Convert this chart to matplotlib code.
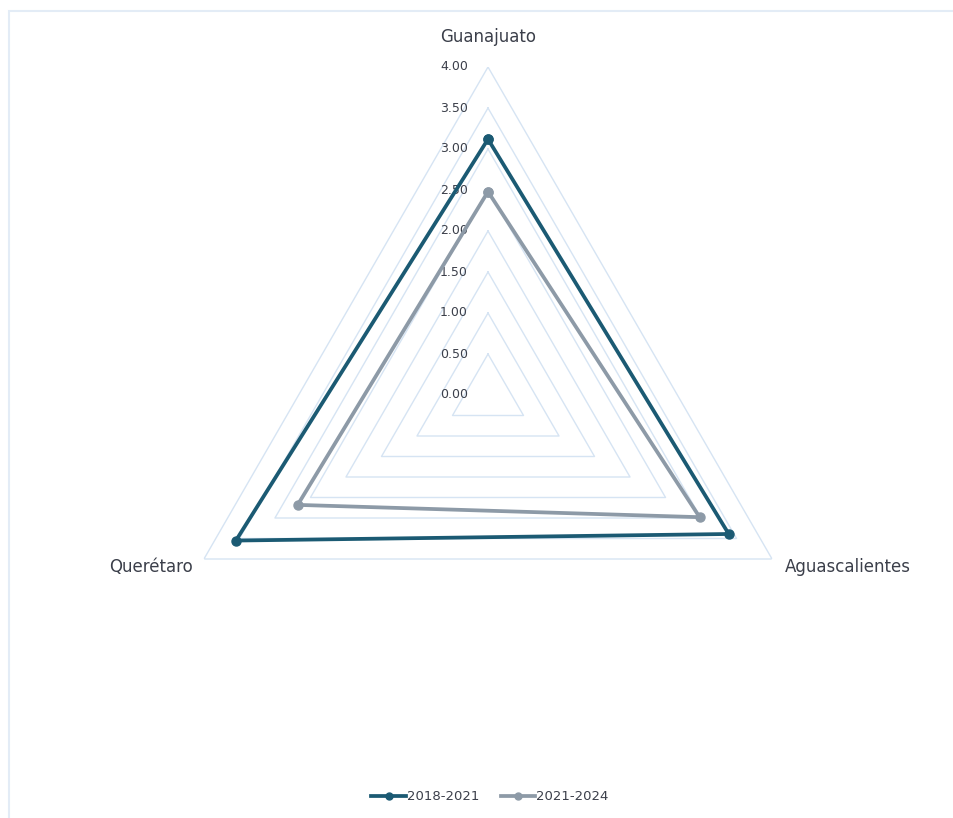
import numpy as np
import matplotlib

matplotlib.use("Agg")
import matplotlib.pyplot as plt
from matplotlib.lines import Line2D
from matplotlib.patches import Rectangle
from matplotlib.transforms import offset_copy

# data
states = ["Guanajuato", "Aguascalientes", "Querétaro"]
periods = ["2018-2021", "2021-2024"]
vals_2018 = [3.12, 3.39, 3.55]
vals_2021 = [2.48, 2.98, 2.68]
r_ticks = [0.0, 0.5, 1.0, 1.5, 2.0, 2.5, 3.0, 3.5, 4.0]

c_dark = "#1b5a73"
c_grey = "#8d9aa7"
c_grid = "#d6e4f3"
c_text = "#3b3f4a"

plt.rcParams["font.family"] = ["DejaVu Sans"]

fig = plt.figure(figsize=(9.54, 8.18), dpi=100)
W, H = 954, 818
cx, cy, R = 488, 395, 328
ax = fig.add_axes([(cx - R) / W, (H - cy - R) / H, 2 * R / W, 2 * R / H], projection="polar")
ax.set_theta_offset(np.pi / 2)
ax.set_theta_direction(-1)
ax.set_ylim(0, 4)
ax.grid(False)
ax.spines["polar"].set_visible(False)
ax.set_xticks([])
ax.set_yticks([])
ax.patch.set_alpha(0)

theta = np.linspace(0, 2 * np.pi, len(states), endpoint=False)
theta_c = np.append(theta, theta[0])

# polygon grid
for r in r_ticks[1:]:
    ax.plot(theta_c, [r] * len(theta_c), color=c_grid, lw=1.0, zorder=1)

# radial labels
lab_tr = offset_copy(ax.transData, fig=fig, x=-20, y=0, units="dots")
for r in r_ticks:
    ax.text(0, r, f"{r:.2f}", transform=lab_tr, ha="right", va="center",
            fontsize=9, color=c_text)

# series
for vals, col in [(vals_2018, c_dark), (vals_2021, c_grey)]:
    v = np.append(vals, vals[0])
    ax.plot(theta_c, v, color=col, lw=2.7, marker="o", markersize=6.5, zorder=3)

# category labels
ax.text(theta[0], 4.0, states[0], transform=offset_copy(ax.transData, fig=fig, x=0, y=30, units="dots"),
        ha="center", va="center", fontsize=12, color=c_text)
ax.text(theta[1], 4.0, states[1], transform=offset_copy(ax.transData, fig=fig, x=13, y=-8, units="dots"),
        ha="left", va="center", fontsize=12, color=c_text)
ax.text(theta[2], 4.0, states[2], transform=offset_copy(ax.transData, fig=fig, x=-11, y=-8, units="dots"),
        ha="right", va="center", fontsize=12, color=c_text)

handles = [Line2D([], [], color=c_dark, lw=2.7, marker="o", markersize=5),
           Line2D([], [], color=c_grey, lw=2.7, marker="o", markersize=5)]
fig.legend(handles, periods, loc="center", bbox_to_anchor=(490 / W, 1 - 797 / H),
           ncol=2, frameon=False, fontsize=9.5, handlelength=2.6, handletextpad=0.1,
           columnspacing=1.6, labelcolor=c_text)

# chart border (only top and left edges fall inside the image)
fig.patches.append(Rectangle((9 / W, -0.05), 1.1, 1.05 - 11 / H, transform=fig.transFigure,
                             fill=False, edgecolor="#e3ecf6", lw=1.5))

fig.savefig("out.png", dpi=100)
